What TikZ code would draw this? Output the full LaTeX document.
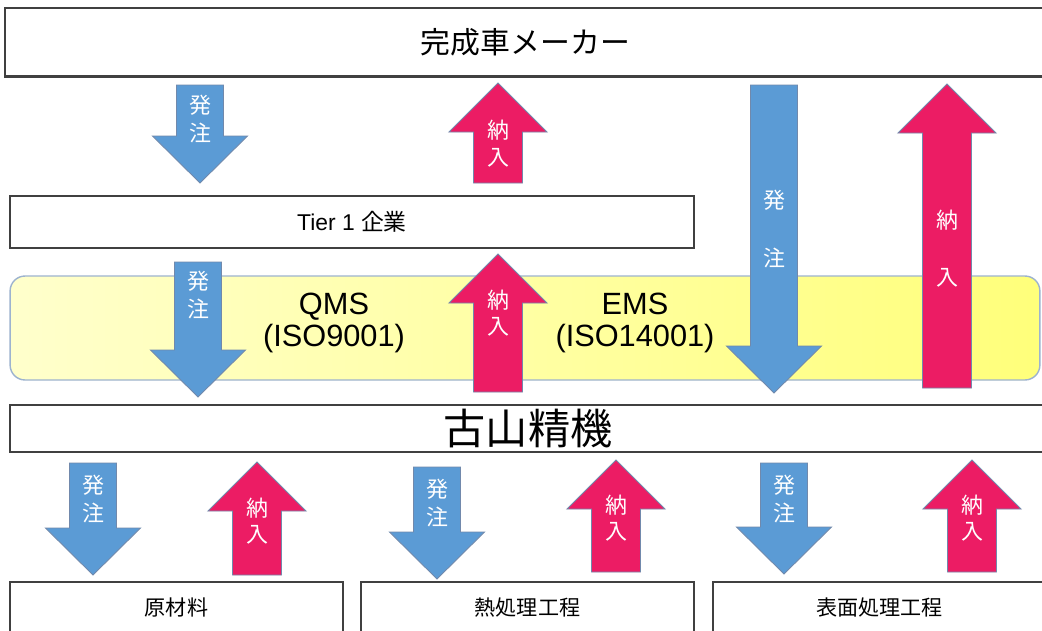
\documentclass[tikz,border=0pt]{standalone}
\usepackage{fontspec}
\setmainfont{Liberation Sans}
\newfontfamily\jp{Noto Sans CJK JP}
\usetikzlibrary{shapes,arrows}
\definecolor{orderblue}{HTML}{5B9BD5}
\definecolor{deliverpink}{HTML}{EC1C64}
\definecolor{arrowline}{HTML}{7189AC}
\definecolor{boxline}{HTML}{404040}
\definecolor{bandline}{HTML}{9DB3CF}
\tikzstyle{box} = [rectangle, draw=boxline, line width=0.9pt, fill=white, inner sep=0pt]
\tikzstyle{band} = [rectangle, draw=bandline, line width=0.8pt, rounded corners=0.3cm,
    left color=yellow!20, right color=yellow!52, inner sep=0pt]
\tikzstyle{order} = [fill=orderblue, draw=arrowline, line width=0.5pt]
\tikzstyle{deliver} = [fill=deliverpink, draw=arrowline, line width=0.5pt]
\tikzstyle{arrowtext} = [text=white, font=\jp\fontsize{12.5}{14}\selectfont, inner sep=0pt]
\tikzstyle{boxtext} = [font=\jp\fontsize{12}{14}\selectfont]
% name, x, tail y, tip y, y of each character
\newcommand{\hatchu}[6]{
	\draw[order] (#2-23.5,#3) -- (#2+23.5,#3) -- (#2+23.5,#4-47) -- (#2+47.5,#4-47)
		-- (#2,#4) -- (#2-47.5,#4-47) -- (#2-23.5,#4-47) -- cycle;
	\node[arrowtext] (#1a) at (#2,#5) {発};
	\node[arrowtext] (#1b) at (#2,#6) {注};
}
\newcommand{\nonyu}[6]{
	\draw[deliver] (#2-24.5,#3) -- (#2+24.5,#3) -- (#2+24.5,#4+49) -- (#2+49,#4+49)
		-- (#2,#4) -- (#2-49,#4+49) -- (#2-24.5,#4+49) -- cycle;
	\node[arrowtext] (#1a) at (#2,#5) {納};
	\node[arrowtext] (#1b) at (#2,#6) {入};
}

\begin{document}
\begin{tikzpicture}[x=0.02cm, y=-0.02cm]
		\clip (0,0) rectangle (1042,630);
		\fill[white] (0,0) rectangle (1042,630);
		
		% management systems band
		\node [band, minimum width=20.6cm, minimum height=2.08cm] (ms) at (525,328) {};
		\node [align=center, font=\fontsize{17.5}{18}\selectfont] (qms) at (334,323) {QMS\\(ISO9001)};
		\node [align=center, font=\fontsize{17.5}{18}\selectfont] (ems) at (635,323) {EMS\\(ISO14001)};
		
		% companies
		\node [box, minimum width=20.82cm, minimum height=1.36cm, font=\jp\fontsize{17}{20}\selectfont] (maker) at (525.5,42) {完成車メーカー};
		\draw [boxline, line width=1.6pt] (maker.south west) -- (maker.south east);
		\node [box, minimum width=13.68cm, minimum height=1.04cm, font=\fontsize{13}{15}\selectfont] (tier) at (352,222) {Tier 1 {\jp 企業}};
		\node [box, minimum width=20.72cm, minimum height=0.94cm, font=\jp\fontsize{24}{28}\selectfont] (furuyama) at (528,428.5) {古山精機};
		\node [box, boxtext, minimum width=6.66cm, minimum height=1cm] (raw) at (176.5,607) {原材料};
		\node [box, boxtext, minimum width=6.66cm, minimum height=1cm] (heat) at (527.5,607) {熱処理工程};
		\node [box, boxtext, minimum width=6.66cm, minimum height=1cm] (surface) at (879.5,607) {表面処理工程};
		
		% orders and deliveries
		\hatchu{o1}{200}{85}{183}{105}{133}
		\nonyu{d1}{498}{183}{83}{130}{158}
		\hatchu{o2}{198}{262}{397}{281}{309}
		\nonyu{d2}{498}{392}{254}{300}{327}
		\hatchu{o3}{774}{85}{393}{200}{258}
		\nonyu{d3}{947}{388}{84}{220}{278}
		\hatchu{o4}{93}{463}{575}{485}{513}
		\nonyu{d4}{257}{575}{462}{508}{535}
		\hatchu{o5}{437}{467}{579}{489}{517}
		\nonyu{d5}{616}{572}{460}{505}{532}
		\hatchu{o6}{784}{463}{574}{485}{513}
		\nonyu{d6}{972}{572}{460}{505}{532}
	\end{tikzpicture}
\end{document}
